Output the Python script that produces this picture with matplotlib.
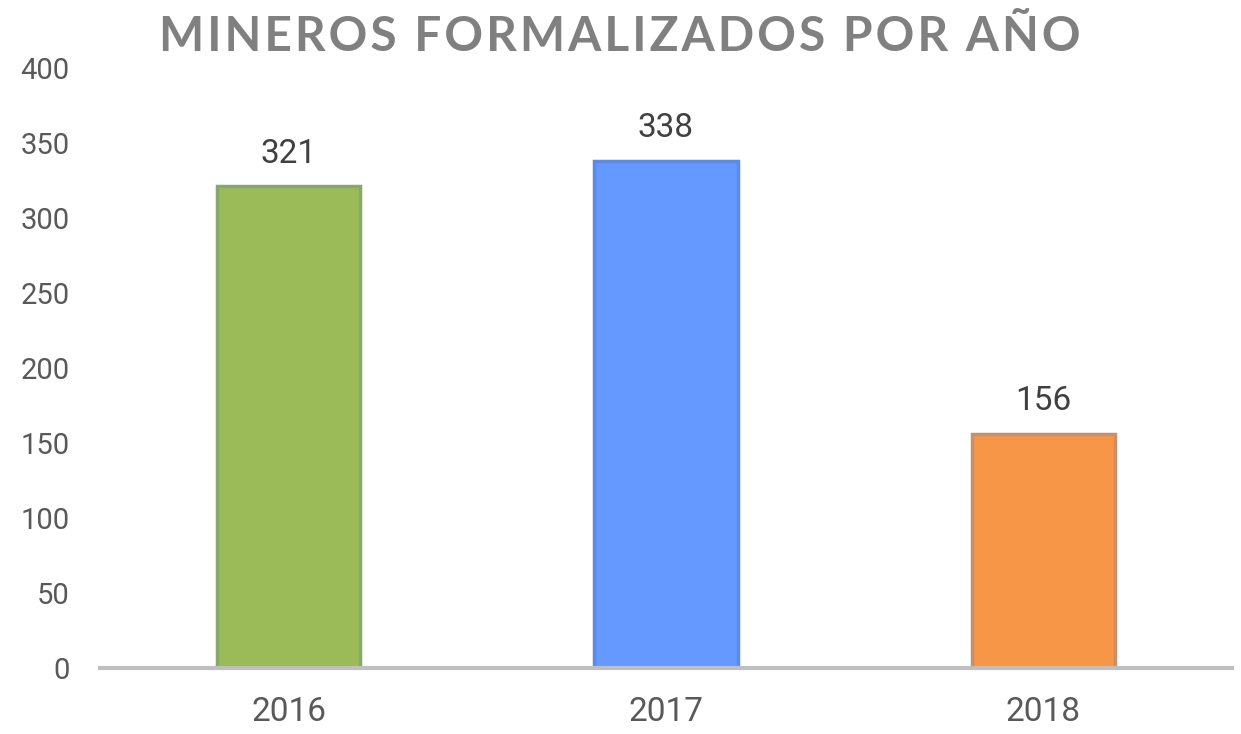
import matplotlib
matplotlib.use("Agg")
import matplotlib.pyplot as plt

# datos
anios = ["2016", "2017", "2018"]
mineros = [321, 338, 156]
colores = ["#9BBB59", "#6699FF", "#F79646"]
bordes = ["#86A86A", "#5B8BE8", "#C9906A"]
titulo = "MINEROS FORMALIZADOS POR AÑO"

plt.rcParams['font.family'] = ['Roboto', 'DejaVu Sans']

fig = plt.figure(figsize=(12.41, 7.34), dpi=100)
ax = fig.add_axes([0.0806, 0.0899, 0.9121, 0.8175])

x = list(range(len(anios)))
ax.bar(x, mineros, width=0.38, color=colores, edgecolor=bordes, linewidth=2.5)

for xi, v in zip(x, mineros):
    ax.text(xi, v + 11, str(v), ha="center", va="bottom", fontsize=24, color="#404040")

ax.set_xlim(-0.5, 2.5)
ax.set_ylim(0, 400)
ax.set_yticks(range(0, 401, 50))
ax.set_xticks(x)
ax.set_xticklabels(anios)
ax.tick_params(axis="both", length=0, labelcolor="#595959")
ax.tick_params(axis="x", pad=20, labelsize=24)
ax.tick_params(axis="y", pad=22, labelsize=21)

for s in ["top", "right", "left"]:
    ax.spines[s].set_visible(False)
ax.spines["bottom"].set_color("#BFBFBF")
ax.spines["bottom"].set_linewidth(3)

# espaciado entre letras
espaciado = "\u200a".join(titulo).replace("\u200a \u200a", " \u2009")
fig.text(0.4995, 0.95, espaciado, ha="center", va="center", fontsize=34.5,
         fontweight="bold", color="#808080", family=["Lato", "DejaVu Sans"])

fig.savefig("out.png", dpi=100)
